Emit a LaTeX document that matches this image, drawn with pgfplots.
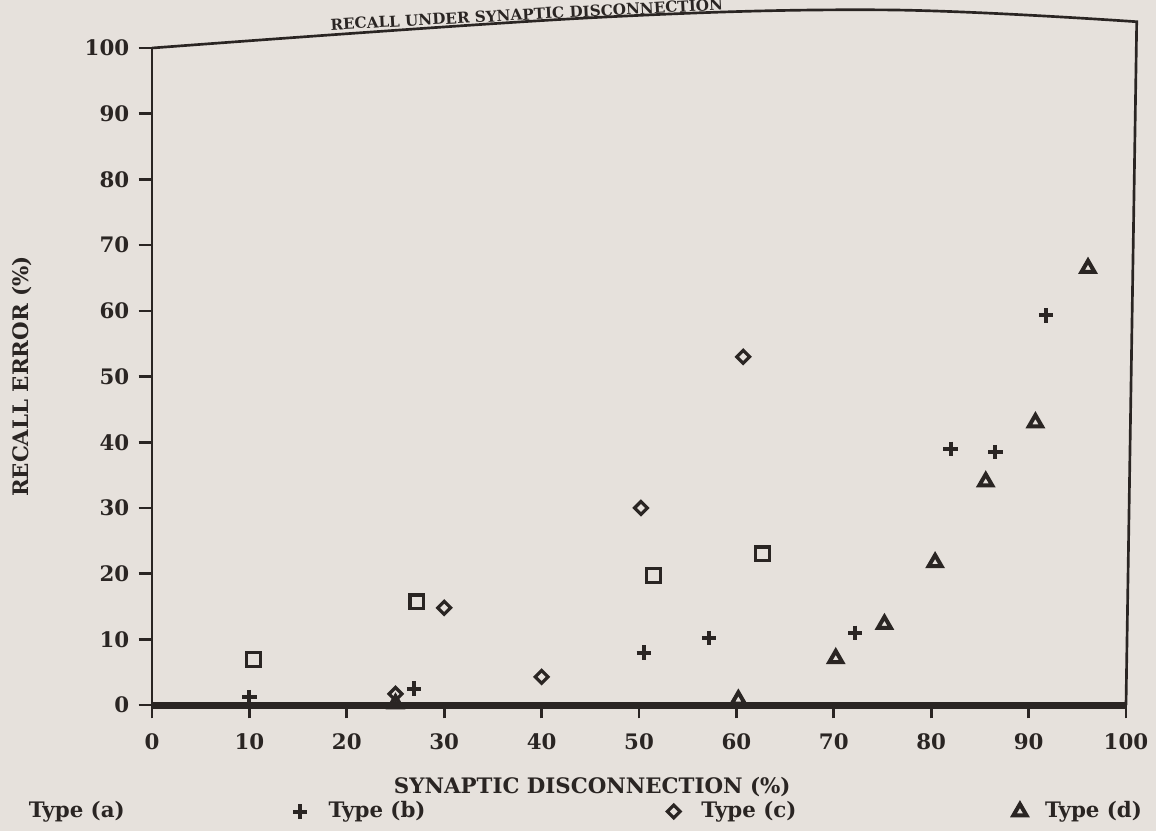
\documentclass[border=0pt]{standalone}
\usepackage{fontspec}
\setmainfont{DejaVu Serif}
\usepackage{pgfplots}
\pgfplotsset{compat=1.18}
\usetikzlibrary{backgrounds,calc}
\definecolor{paper}{HTML}{E6E1DC}
\definecolor{ink}{HTML}{2A2523}

\begin{document}
\begin{tikzpicture}
\begin{axis}[
  name=ax,
  scale only axis,
  width=365.25pt, height=246.4pt,
  xmin=0, xmax=100, ymin=0, ymax=100,
  xtick={0,10,...,100}, ytick={0,10,...,100},
  axis x line*=bottom, axis y line*=left,
  x axis line style={-, line width=2.6pt, ink},
  y axis line style={-, line width=1pt, ink},
  tick align=outside,
  major tick length=5pt,
  tick style={ink, line width=1pt},
  /pgf/number format/assume math mode=true,
  tick label style={font=\fontsize{8}{9}\selectfont\bfseries, text=ink},
  xticklabel style={yshift=-2pt},
  label style={font=\fontsize{8}{9}\selectfont\bfseries, text=ink},
  xlabel={SYNAPTIC DISCONNECTION (\%)},
  ylabel={RECALL ERROR (\%)},
  xlabel style={at={(axis description cs:0.452,-0.1248)}, anchor=center},
  ylabel style={at={(axis description cs:-0.1335,0.5)}, anchor=center},
  clip=false,
  legend columns=4,
  legend style={draw=none, fill=none, at={(axis description cs:-0.1406,-0.162)},
    anchor=west, font=\fontsize{8}{9}\selectfont\bfseries, text=ink,
    /tikz/every odd column/.style={column sep=0pt},
    /tikz/every even column/.style={column sep=0pt}},
]
% Type (a)
\addplot[only marks, mark=square, mark size=2.6pt, ink, line width=1.2pt,
  mark options={fill=paper}, forget plot] coordinates {
  (10.4,6.9) (27.2,15.7) (51.5,19.7) (62.7,23)
};
\addlegendimage{empty legend}
\addlegendentry{\makebox[97pt][l]{Type (a)}}
% Type (b)
\addplot[only marks, mark=+, mark size=2.7pt, ink, line width=1.5pt] coordinates {
  (10,1.2) (26.9,2.5) (50.5,8) (57.2,10.2) (72.2,11) (82,39) (86.6,38.5) (91.8,59.3)
};
\addlegendentry{\makebox[131pt][l]{\hspace{6pt}Type (b)}}
% Type (c)
\addplot[only marks, mark=square, mark size=1.7pt, ink, line width=1.2pt,
  mark options={rotate=45, fill=paper}] coordinates {
  (25,1.7) (30,14.8) (40,4.3) (50.2,30) (60.7,53)
};
\addlegendentry{\makebox[121pt][l]{\hspace{6pt}Type (c)}}
% Type (d)
\addplot[only marks, mark=triangle, mark size=2.8pt, ink, line width=1.5pt,
  mark options={fill=paper}] coordinates {
  (25,0.2) (60.2,0.8) (70.2,7.1) (75.2,12.3) (80.4,21.7) (85.6,34) (90.7,43) (96.1,66.5)
};
\addlegendentry{\hspace{5pt}Type (d)}

% warped top edge and right edge of the frame
\draw[ink, line width=1pt] plot[smooth, tension=0.6] coordinates {
  (rel axis cs:0,1) (rel axis cs:0.45,1.046) (rel axis cs:0.753,1.058) (rel axis cs:1.011,1.040)}
  -- (rel axis cs:1,0);
\node[anchor=base west, rotate=3, inner sep=0pt, font=\fontsize{5.7}{7}\selectfont\bfseries, text=ink]
  at (rel axis cs:0.183,1.027) {RECALL UNDER SYNAPTIC DISCONNECTION};
\end{axis}
\begin{pgfonlayer}{background}
\fill[paper] ($(ax.south west)+(-57pt,-47.25pt)$) rectangle ($(ax.south west)+(376.5pt,264.4pt)$);
\end{pgfonlayer}
\pgfresetboundingbox
\path[use as bounding box] ($(ax.south west)+(-57pt,-47.25pt)$) rectangle ($(ax.south west)+(376.5pt,264.4pt)$);
\end{tikzpicture}
\end{document}
